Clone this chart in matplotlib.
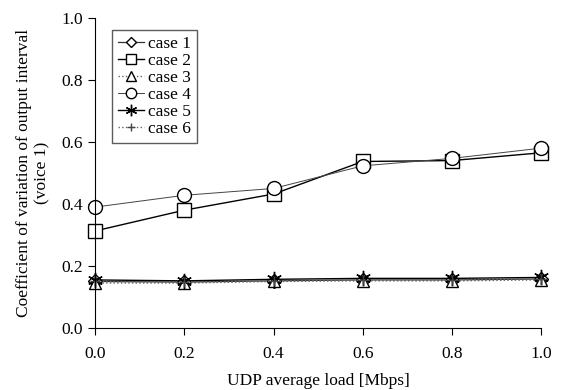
import matplotlib
matplotlib.use("Agg")
import matplotlib.pyplot as plt

plt.rcParams['font.family'] = ['Liberation Serif', 'DejaVu Serif']

load = [0.0, 0.2, 0.4, 0.6, 0.8, 1.0]
case1 = [0.150, 0.148, 0.152, 0.155, 0.155, 0.158]
case2 = [0.313, 0.380, 0.432, 0.537, 0.540, 0.565]
case3 = [0.145, 0.145, 0.150, 0.152, 0.152, 0.155]
case4 = [0.390, 0.428, 0.450, 0.523, 0.547, 0.580]
case5 = [0.155, 0.152, 0.157, 0.160, 0.160, 0.163]
case6 = [0.150, 0.148, 0.152, 0.155, 0.155, 0.158]
labels = ['case 1', 'case 2', 'case 3', 'case 4', 'case 5', 'case 6']

fig = plt.figure(figsize=(5.63, 3.9), dpi=100)
ax = fig.add_axes([0.169, 0.159, 0.792, 0.795])

styles = [
    dict(marker='D', ms=7, mfc='white', mec='black', color='#333333', ls='-', lw=0.9),
    dict(marker='s', ms=10, mfc='white', mec='black', color='black', ls='-', lw=1.0),
    dict(marker='^', ms=9, mfc='white', mec='black', color='#666666', ls=':', lw=1.0),
    dict(marker='o', ms=10, mfc='white', mec='black', color='#444444', ls='-', lw=0.7),
    dict(marker=(6, 2, 0), ms=11, mfc='black', mec='black', color='black', ls='-', lw=1.0),
    dict(marker='+', ms=7, mfc='black', mec='#444444', color='#666666', ls=':', lw=1.0),
]
data = [case1, case2, case3, case4, case5, case6]
for y, st, lab in zip(data, styles, labels):
    ax.plot(load, y, label=lab, clip_on=False, mew=1.0, **st)

ax.set_xlim(0, 1.0)
ax.set_ylim(0, 1.0)
ax.set_xticks(load)
ax.set_xticklabels([f"{v:.1f}" for v in load])
ax.set_yticks([0.0, 0.2, 0.4, 0.6, 0.8, 1.0])
ax.set_yticklabels([f"{v:.1f}" for v in [0.0, 0.2, 0.4, 0.6, 0.8, 1.0]])
ax.spines['top'].set_visible(False)
ax.spines['right'].set_visible(False)
ax.tick_params(direction='out', length=5, labelsize=12.5, width=0.8)
ax.tick_params(axis='x', pad=8)
ax.set_xlabel('UDP average load [Mbps]', fontsize=12.5, labelpad=8)
ax.set_ylabel('Coefficient of variation of output interval\n(voice 1)', fontsize=12.5, labelpad=8)

leg = ax.legend(loc='upper left', bbox_to_anchor=(0.038, 0.962), borderaxespad=0,
                fontsize=12.5, frameon=True, fancybox=False, edgecolor='#333333',
                handlelength=1.5, handletextpad=0.2, labelspacing=0.05,
                borderpad=0.35, markerscale=0.75)
leg.get_frame().set_linewidth(1.0)

fig.savefig('out.png', dpi=100)
